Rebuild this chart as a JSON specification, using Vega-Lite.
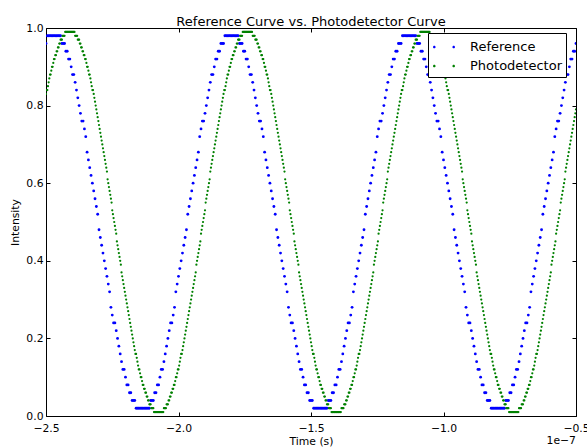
{
"$schema":"https://vega.github.io/schema/vega-lite/v6.json",
"width":530,"height":388,
"autosize":{"type":"none"},
"padding":{"left":46,"top":28,"right":11,"bottom":32},
"background":"white",
"title":{"text":"Reference Curve vs. Photodetector Curve","fontSize":13,"fontWeight":"normal","font":"DejaVu Sans","color":"#000","anchor":"middle","frame":"group","baseline":"alphabetic","offset":-17},
"config":{
"font":"DejaVu Sans",
"view":{"stroke":"#000","strokeWidth":1},
"axis":{"domain":false,"grid":false,"ticks":true,"tickColor":"#000","tickSize":-4,"tickWidth":1,"labelColor":"#000","labelFont":"DejaVu Sans","labelFontSize":10.8,"titleFont":"DejaVu Sans","titleFontSize":10.8,"titleFontWeight":"normal","titleColor":"#000","labelFlush":false,"labelOverlap":false}
},
"datasets":{
"lab":[{"t":-0.5,"v":0,"s":"1e−7"}],
"ref":[
{"t":-2.5,"v":0.96},{"t":-2.495,"v":0.98},{"t":-2.49,"v":0.98},{"t":-2.485,"v":0.98},{"t":-2.48,"v":0.98},{"t":-2.475,"v":0.98},
{"t":-2.47,"v":0.98},{"t":-2.465,"v":0.98},{"t":-2.46,"v":0.98},{"t":-2.455,"v":0.98},{"t":-2.45,"v":0.98},{"t":-2.445,"v":0.98},{"t":-2.44,"v":0.96},{"t":-2.435,"v":0.96},{"t":-2.43,"v":0.96},{"t":-2.425,"v":0.94},
{"t":-2.42,"v":0.94},{"t":-2.415,"v":0.92},{"t":-2.41,"v":0.92},{"t":-2.405,"v":0.90},{"t":-2.4,"v":0.88},{"t":-2.395,"v":0.88},{"t":-2.39,"v":0.86},{"t":-2.385,"v":0.84},{"t":-2.38,"v":0.82},{"t":-2.375,"v":0.80},
{"t":-2.37,"v":0.78},{"t":-2.365,"v":0.76},{"t":-2.36,"v":0.76},{"t":-2.355,"v":0.74},{"t":-2.35,"v":0.72},{"t":-2.345,"v":0.68},{"t":-2.34,"v":0.66},{"t":-2.335,"v":0.64},{"t":-2.33,"v":0.62},{"t":-2.325,"v":0.60},
{"t":-2.32,"v":0.58},{"t":-2.315,"v":0.56},{"t":-2.31,"v":0.54},{"t":-2.305,"v":0.52},{"t":-2.3,"v":0.48},{"t":-2.295,"v":0.46},{"t":-2.29,"v":0.44},{"t":-2.285,"v":0.42},{"t":-2.28,"v":0.40},{"t":-2.275,"v":0.38},
{"t":-2.27,"v":0.36},{"t":-2.265,"v":0.34},{"t":-2.26,"v":0.32},{"t":-2.255,"v":0.28},{"t":-2.25,"v":0.26},{"t":-2.245,"v":0.24},{"t":-2.24,"v":0.24},{"t":-2.235,"v":0.22},{"t":-2.23,"v":0.20},{"t":-2.225,"v":0.18},
{"t":-2.22,"v":0.16},{"t":-2.215,"v":0.14},{"t":-2.21,"v":0.12},{"t":-2.205,"v":0.12},{"t":-2.2,"v":0.10},{"t":-2.195,"v":0.08},{"t":-2.19,"v":0.08},{"t":-2.185,"v":0.06},{"t":-2.18,"v":0.06},{"t":-2.175,"v":0.04},
{"t":-2.17,"v":0.04},{"t":-2.165,"v":0.04},{"t":-2.16,"v":0.02},{"t":-2.155,"v":0.02},{"t":-2.15,"v":0.02},{"t":-2.145,"v":0.02},{"t":-2.14,"v":0.02},{"t":-2.135,"v":0.02},{"t":-2.13,"v":0.02},{"t":-2.125,"v":0.02},
{"t":-2.12,"v":0.02},{"t":-2.115,"v":0.02},{"t":-2.11,"v":0.02},{"t":-2.105,"v":0.04},{"t":-2.1,"v":0.04},{"t":-2.095,"v":0.04},{"t":-2.09,"v":0.06},{"t":-2.085,"v":0.06},{"t":-2.08,"v":0.08},{"t":-2.075,"v":0.08},
{"t":-2.07,"v":0.10},{"t":-2.065,"v":0.12},{"t":-2.06,"v":0.12},{"t":-2.055,"v":0.14},{"t":-2.05,"v":0.16},{"t":-2.045,"v":0.18},{"t":-2.04,"v":0.20},{"t":-2.035,"v":0.22},{"t":-2.03,"v":0.24},{"t":-2.025,"v":0.24},
{"t":-2.02,"v":0.26},{"t":-2.015,"v":0.28},{"t":-2.01,"v":0.32},{"t":-2.005,"v":0.34},{"t":-2,"v":0.36},{"t":-1.995,"v":0.38},{"t":-1.99,"v":0.40},{"t":-1.985,"v":0.42},{"t":-1.98,"v":0.44},{"t":-1.975,"v":0.46},
{"t":-1.97,"v":0.48},{"t":-1.965,"v":0.52},{"t":-1.96,"v":0.54},{"t":-1.955,"v":0.56},{"t":-1.95,"v":0.58},{"t":-1.945,"v":0.60},{"t":-1.94,"v":0.62},{"t":-1.935,"v":0.64},{"t":-1.93,"v":0.66},{"t":-1.925,"v":0.68},
{"t":-1.92,"v":0.72},{"t":-1.915,"v":0.74},{"t":-1.91,"v":0.76},{"t":-1.905,"v":0.76},{"t":-1.9,"v":0.78},{"t":-1.895,"v":0.80},{"t":-1.89,"v":0.82},{"t":-1.885,"v":0.84},{"t":-1.88,"v":0.86},{"t":-1.875,"v":0.88},
{"t":-1.87,"v":0.88},{"t":-1.865,"v":0.90},{"t":-1.86,"v":0.92},{"t":-1.855,"v":0.92},{"t":-1.85,"v":0.94},{"t":-1.845,"v":0.94},{"t":-1.84,"v":0.96},{"t":-1.835,"v":0.96},{"t":-1.83,"v":0.96},{"t":-1.825,"v":0.98},
{"t":-1.82,"v":0.98},{"t":-1.815,"v":0.98},{"t":-1.81,"v":0.98},{"t":-1.805,"v":0.98},
{"t":-1.8,"v":0.98},{"t":-1.795,"v":0.98},{"t":-1.79,"v":0.98},{"t":-1.785,"v":0.98},{"t":-1.78,"v":0.98},{"t":-1.775,"v":0.98},{"t":-1.77,"v":0.96},{"t":-1.765,"v":0.96},{"t":-1.76,"v":0.96},{"t":-1.755,"v":0.94},
{"t":-1.75,"v":0.94},{"t":-1.745,"v":0.92},{"t":-1.74,"v":0.92},{"t":-1.735,"v":0.90},{"t":-1.73,"v":0.88},{"t":-1.725,"v":0.88},{"t":-1.72,"v":0.86},{"t":-1.715,"v":0.84},{"t":-1.71,"v":0.82},{"t":-1.705,"v":0.80},
{"t":-1.7,"v":0.78},{"t":-1.695,"v":0.76},{"t":-1.69,"v":0.76},{"t":-1.685,"v":0.74},{"t":-1.68,"v":0.72},{"t":-1.675,"v":0.68},{"t":-1.67,"v":0.66},{"t":-1.665,"v":0.64},{"t":-1.66,"v":0.62},{"t":-1.655,"v":0.60},
{"t":-1.65,"v":0.58},{"t":-1.645,"v":0.56},{"t":-1.64,"v":0.54},{"t":-1.635,"v":0.52},{"t":-1.63,"v":0.48},{"t":-1.625,"v":0.46},{"t":-1.62,"v":0.44},{"t":-1.615,"v":0.42},{"t":-1.61,"v":0.40},{"t":-1.605,"v":0.38},
{"t":-1.6,"v":0.36},{"t":-1.595,"v":0.34},{"t":-1.59,"v":0.32},{"t":-1.585,"v":0.28},{"t":-1.58,"v":0.26},{"t":-1.575,"v":0.24},{"t":-1.57,"v":0.24},{"t":-1.565,"v":0.22},{"t":-1.56,"v":0.20},{"t":-1.555,"v":0.18},
{"t":-1.55,"v":0.16},{"t":-1.545,"v":0.14},{"t":-1.54,"v":0.12},{"t":-1.535,"v":0.12},{"t":-1.53,"v":0.10},{"t":-1.525,"v":0.08},{"t":-1.52,"v":0.08},{"t":-1.515,"v":0.06},{"t":-1.51,"v":0.06},{"t":-1.505,"v":0.04},
{"t":-1.5,"v":0.04},{"t":-1.495,"v":0.04},{"t":-1.49,"v":0.02},{"t":-1.485,"v":0.02},{"t":-1.48,"v":0.02},{"t":-1.475,"v":0.02},{"t":-1.47,"v":0.02},{"t":-1.465,"v":0.02},{"t":-1.46,"v":0.02},{"t":-1.455,"v":0.02},
{"t":-1.45,"v":0.02},{"t":-1.445,"v":0.02},{"t":-1.44,"v":0.02},{"t":-1.435,"v":0.04},{"t":-1.43,"v":0.04},{"t":-1.425,"v":0.04},{"t":-1.42,"v":0.06},{"t":-1.415,"v":0.06},{"t":-1.41,"v":0.08},{"t":-1.405,"v":0.08},
{"t":-1.4,"v":0.10},{"t":-1.395,"v":0.12},{"t":-1.39,"v":0.12},{"t":-1.385,"v":0.14},{"t":-1.38,"v":0.16},{"t":-1.375,"v":0.18},{"t":-1.37,"v":0.20},{"t":-1.365,"v":0.22},{"t":-1.36,"v":0.24},{"t":-1.355,"v":0.24},
{"t":-1.35,"v":0.26},{"t":-1.345,"v":0.28},{"t":-1.34,"v":0.32},{"t":-1.335,"v":0.34},{"t":-1.33,"v":0.36},{"t":-1.325,"v":0.38},{"t":-1.32,"v":0.40},{"t":-1.315,"v":0.42},{"t":-1.31,"v":0.44},{"t":-1.305,"v":0.46},
{"t":-1.3,"v":0.48},{"t":-1.295,"v":0.52},{"t":-1.29,"v":0.54},{"t":-1.285,"v":0.56},{"t":-1.28,"v":0.58},{"t":-1.275,"v":0.60},{"t":-1.27,"v":0.62},{"t":-1.265,"v":0.64},{"t":-1.26,"v":0.66},{"t":-1.255,"v":0.68},
{"t":-1.25,"v":0.72},{"t":-1.245,"v":0.74},{"t":-1.24,"v":0.76},{"t":-1.235,"v":0.76},{"t":-1.23,"v":0.78},{"t":-1.225,"v":0.80},{"t":-1.22,"v":0.82},{"t":-1.215,"v":0.84},{"t":-1.21,"v":0.86},{"t":-1.205,"v":0.88},
{"t":-1.2,"v":0.88},{"t":-1.195,"v":0.90},{"t":-1.19,"v":0.92},{"t":-1.185,"v":0.92},{"t":-1.18,"v":0.94},{"t":-1.175,"v":0.94},{"t":-1.17,"v":0.96},{"t":-1.165,"v":0.96},{"t":-1.16,"v":0.96},{"t":-1.155,"v":0.98},
{"t":-1.15,"v":0.98},{"t":-1.145,"v":0.98},{"t":-1.14,"v":0.98},{"t":-1.135,"v":0.98},
{"t":-1.13,"v":0.98},{"t":-1.125,"v":0.98},{"t":-1.12,"v":0.98},{"t":-1.115,"v":0.98},{"t":-1.11,"v":0.98},{"t":-1.105,"v":0.98},{"t":-1.1,"v":0.96},{"t":-1.095,"v":0.96},{"t":-1.09,"v":0.96},{"t":-1.085,"v":0.94},
{"t":-1.08,"v":0.94},{"t":-1.075,"v":0.92},{"t":-1.07,"v":0.92},{"t":-1.065,"v":0.90},{"t":-1.06,"v":0.88},{"t":-1.055,"v":0.88},{"t":-1.05,"v":0.86},{"t":-1.045,"v":0.84},{"t":-1.04,"v":0.82},{"t":-1.035,"v":0.80},
{"t":-1.03,"v":0.78},{"t":-1.025,"v":0.76},{"t":-1.02,"v":0.76},{"t":-1.015,"v":0.74},{"t":-1.01,"v":0.72},{"t":-1.005,"v":0.68},{"t":-1,"v":0.66},{"t":-0.995,"v":0.64},{"t":-0.99,"v":0.62},{"t":-0.985,"v":0.60},
{"t":-0.98,"v":0.58},{"t":-0.975,"v":0.56},{"t":-0.97,"v":0.54},{"t":-0.965,"v":0.52},{"t":-0.96,"v":0.48},{"t":-0.955,"v":0.46},{"t":-0.95,"v":0.44},{"t":-0.945,"v":0.42},{"t":-0.94,"v":0.40},{"t":-0.935,"v":0.38},
{"t":-0.93,"v":0.36},{"t":-0.925,"v":0.34},{"t":-0.92,"v":0.32},{"t":-0.915,"v":0.28},{"t":-0.91,"v":0.26},{"t":-0.905,"v":0.24},{"t":-0.9,"v":0.24},{"t":-0.895,"v":0.22},{"t":-0.89,"v":0.20},{"t":-0.885,"v":0.18},
{"t":-0.88,"v":0.16},{"t":-0.875,"v":0.14},{"t":-0.87,"v":0.12},{"t":-0.865,"v":0.12},{"t":-0.86,"v":0.10},{"t":-0.855,"v":0.08},{"t":-0.85,"v":0.08},{"t":-0.845,"v":0.06},{"t":-0.84,"v":0.06},{"t":-0.835,"v":0.04},
{"t":-0.83,"v":0.04},{"t":-0.825,"v":0.04},{"t":-0.82,"v":0.02},{"t":-0.815,"v":0.02},{"t":-0.81,"v":0.02},{"t":-0.805,"v":0.02},{"t":-0.8,"v":0.02},{"t":-0.795,"v":0.02},{"t":-0.79,"v":0.02},{"t":-0.785,"v":0.02},
{"t":-0.78,"v":0.02},{"t":-0.775,"v":0.02},{"t":-0.77,"v":0.02},{"t":-0.765,"v":0.04},{"t":-0.76,"v":0.04},{"t":-0.755,"v":0.04},{"t":-0.75,"v":0.06},{"t":-0.745,"v":0.06},{"t":-0.74,"v":0.08},{"t":-0.735,"v":0.08},
{"t":-0.73,"v":0.10},{"t":-0.725,"v":0.12},{"t":-0.72,"v":0.12},{"t":-0.715,"v":0.14},{"t":-0.71,"v":0.16},{"t":-0.705,"v":0.18},{"t":-0.7,"v":0.20},{"t":-0.695,"v":0.22},{"t":-0.69,"v":0.24},{"t":-0.685,"v":0.24},
{"t":-0.68,"v":0.26},{"t":-0.675,"v":0.28},{"t":-0.67,"v":0.32},{"t":-0.665,"v":0.34},{"t":-0.66,"v":0.36},{"t":-0.655,"v":0.38},{"t":-0.65,"v":0.40},{"t":-0.645,"v":0.42},{"t":-0.64,"v":0.44},{"t":-0.635,"v":0.46},
{"t":-0.63,"v":0.48},{"t":-0.625,"v":0.52},{"t":-0.62,"v":0.54},{"t":-0.615,"v":0.56},{"t":-0.61,"v":0.58},{"t":-0.605,"v":0.60},{"t":-0.6,"v":0.62},{"t":-0.595,"v":0.64},{"t":-0.59,"v":0.66},{"t":-0.585,"v":0.68},
{"t":-0.58,"v":0.72},{"t":-0.575,"v":0.74},{"t":-0.57,"v":0.76},{"t":-0.565,"v":0.76},{"t":-0.56,"v":0.78},{"t":-0.555,"v":0.80},{"t":-0.55,"v":0.82},{"t":-0.545,"v":0.84},{"t":-0.54,"v":0.86},{"t":-0.535,"v":0.88},
{"t":-0.53,"v":0.88},{"t":-0.525,"v":0.90},{"t":-0.52,"v":0.92},{"t":-0.515,"v":0.92},{"t":-0.51,"v":0.94},{"t":-0.505,"v":0.94},{"t":-0.5,"v":0.96}
],
"pd":[
{"t":-2.5,"v":0.83},{"t":-2.4975,"v":0.84},{"t":-2.495,"v":0.84},{"t":-2.4925,"v":0.85},
{"t":-2.49,"v":0.86},{"t":-2.4875,"v":0.87},{"t":-2.485,"v":0.88},{"t":-2.4825,"v":0.88},
{"t":-2.48,"v":0.89},{"t":-2.4775,"v":0.90},{"t":-2.475,"v":0.90},{"t":-2.4725,"v":0.91},
{"t":-2.47,"v":0.92},{"t":-2.4675,"v":0.92},{"t":-2.465,"v":0.93},{"t":-2.4625,"v":0.93},
{"t":-2.46,"v":0.94},{"t":-2.4575,"v":0.94},{"t":-2.455,"v":0.95},{"t":-2.4525,"v":0.95},
{"t":-2.45,"v":0.96},{"t":-2.4475,"v":0.96},{"t":-2.445,"v":0.97},{"t":-2.4425,"v":0.97},
{"t":-2.44,"v":0.97},{"t":-2.4375,"v":0.98},{"t":-2.435,"v":0.98},{"t":-2.4325,"v":0.98},
{"t":-2.43,"v":0.98},{"t":-2.4275,"v":0.99},{"t":-2.425,"v":0.99},{"t":-2.4225,"v":0.99},
{"t":-2.42,"v":0.99},{"t":-2.4175,"v":0.99},{"t":-2.415,"v":0.99},{"t":-2.4125,"v":0.99},
{"t":-2.41,"v":0.99},{"t":-2.4075,"v":0.99},{"t":-2.405,"v":0.99},{"t":-2.4025,"v":0.99},
{"t":-2.4,"v":0.99},{"t":-2.3975,"v":0.99},{"t":-2.395,"v":0.99},{"t":-2.3925,"v":0.99},
{"t":-2.39,"v":0.98},{"t":-2.3875,"v":0.98},{"t":-2.385,"v":0.98},{"t":-2.3825,"v":0.98},
{"t":-2.38,"v":0.97},{"t":-2.3775,"v":0.97},{"t":-2.375,"v":0.97},{"t":-2.3725,"v":0.96},
{"t":-2.37,"v":0.96},{"t":-2.3675,"v":0.95},{"t":-2.365,"v":0.95},{"t":-2.3625,"v":0.94},
{"t":-2.36,"v":0.94},{"t":-2.3575,"v":0.93},{"t":-2.355,"v":0.93},{"t":-2.3525,"v":0.92},
{"t":-2.35,"v":0.92},{"t":-2.3475,"v":0.91},{"t":-2.345,"v":0.90},{"t":-2.3425,"v":0.90},
{"t":-2.34,"v":0.89},{"t":-2.3375,"v":0.88},{"t":-2.335,"v":0.88},{"t":-2.3325,"v":0.87},
{"t":-2.33,"v":0.86},{"t":-2.3275,"v":0.85},{"t":-2.325,"v":0.84},{"t":-2.3225,"v":0.84},
{"t":-2.32,"v":0.83},{"t":-2.3175,"v":0.82},{"t":-2.315,"v":0.81},{"t":-2.3125,"v":0.80},
{"t":-2.31,"v":0.79},{"t":-2.3075,"v":0.78},{"t":-2.305,"v":0.77},{"t":-2.3025,"v":0.76},
{"t":-2.3,"v":0.75},{"t":-2.2975,"v":0.74},{"t":-2.295,"v":0.73},{"t":-2.2925,"v":0.72},
{"t":-2.29,"v":0.71},{"t":-2.2875,"v":0.70},{"t":-2.285,"v":0.69},{"t":-2.2825,"v":0.68},
{"t":-2.28,"v":0.67},{"t":-2.2775,"v":0.66},{"t":-2.275,"v":0.65},{"t":-2.2725,"v":0.64},
{"t":-2.27,"v":0.63},{"t":-2.2675,"v":0.61},{"t":-2.265,"v":0.60},{"t":-2.2625,"v":0.59},
{"t":-2.26,"v":0.58},{"t":-2.2575,"v":0.57},{"t":-2.255,"v":0.56},{"t":-2.2525,"v":0.55},
{"t":-2.25,"v":0.53},{"t":-2.2475,"v":0.52},{"t":-2.245,"v":0.51},{"t":-2.2425,"v":0.50},
{"t":-2.24,"v":0.49},{"t":-2.2375,"v":0.48},{"t":-2.235,"v":0.47},{"t":-2.2325,"v":0.45},
{"t":-2.23,"v":0.44},{"t":-2.2275,"v":0.43},{"t":-2.225,"v":0.42},{"t":-2.2225,"v":0.41},
{"t":-2.22,"v":0.40},{"t":-2.2175,"v":0.39},{"t":-2.215,"v":0.37},{"t":-2.2125,"v":0.36},
{"t":-2.21,"v":0.35},{"t":-2.2075,"v":0.34},{"t":-2.205,"v":0.33},{"t":-2.2025,"v":0.32},
{"t":-2.2,"v":0.31},{"t":-2.1975,"v":0.30},{"t":-2.195,"v":0.29},{"t":-2.1925,"v":0.28},
{"t":-2.19,"v":0.27},{"t":-2.1875,"v":0.26},{"t":-2.185,"v":0.25},{"t":-2.1825,"v":0.24},
{"t":-2.18,"v":0.23},{"t":-2.1775,"v":0.22},{"t":-2.175,"v":0.21},{"t":-2.1725,"v":0.20},
{"t":-2.17,"v":0.19},{"t":-2.1675,"v":0.18},{"t":-2.165,"v":0.17},{"t":-2.1625,"v":0.16},
{"t":-2.16,"v":0.16},{"t":-2.1575,"v":0.15},{"t":-2.155,"v":0.14},{"t":-2.1525,"v":0.13},
{"t":-2.15,"v":0.12},{"t":-2.1475,"v":0.12},{"t":-2.145,"v":0.11},{"t":-2.1425,"v":0.10},
{"t":-2.14,"v":0.10},{"t":-2.1375,"v":0.09},{"t":-2.135,"v":0.08},{"t":-2.1325,"v":0.08},
{"t":-2.13,"v":0.07},{"t":-2.1275,"v":0.07},{"t":-2.125,"v":0.06},{"t":-2.1225,"v":0.06},
{"t":-2.12,"v":0.05},{"t":-2.1175,"v":0.05},{"t":-2.115,"v":0.04},{"t":-2.1125,"v":0.04},
{"t":-2.11,"v":0.03},{"t":-2.1075,"v":0.03},{"t":-2.105,"v":0.03},{"t":-2.1025,"v":0.02},
{"t":-2.1,"v":0.02},{"t":-2.0975,"v":0.02},{"t":-2.095,"v":0.02},{"t":-2.0925,"v":0.01},
{"t":-2.09,"v":0.01},{"t":-2.0875,"v":0.01},{"t":-2.085,"v":0.01},{"t":-2.0825,"v":0.01},
{"t":-2.08,"v":0.01},{"t":-2.0775,"v":0.01},{"t":-2.075,"v":0.01},{"t":-2.0725,"v":0.01},
{"t":-2.07,"v":0.01},{"t":-2.0675,"v":0.01},{"t":-2.065,"v":0.01},{"t":-2.0625,"v":0.01},
{"t":-2.06,"v":0.01},{"t":-2.0575,"v":0.01},{"t":-2.055,"v":0.02},{"t":-2.0525,"v":0.02},
{"t":-2.05,"v":0.02},{"t":-2.0475,"v":0.02},{"t":-2.045,"v":0.03},{"t":-2.0425,"v":0.03},
{"t":-2.04,"v":0.03},{"t":-2.0375,"v":0.04},{"t":-2.035,"v":0.04},{"t":-2.0325,"v":0.05},
{"t":-2.03,"v":0.05},{"t":-2.0275,"v":0.06},{"t":-2.025,"v":0.06},{"t":-2.0225,"v":0.07},
{"t":-2.02,"v":0.07},{"t":-2.0175,"v":0.08},{"t":-2.015,"v":0.08},{"t":-2.0125,"v":0.09},
{"t":-2.01,"v":0.10},{"t":-2.0075,"v":0.10},{"t":-2.005,"v":0.11},{"t":-2.0025,"v":0.12},
{"t":-2,"v":0.12},{"t":-1.9975,"v":0.13},{"t":-1.995,"v":0.14},{"t":-1.9925,"v":0.15},
{"t":-1.99,"v":0.16},{"t":-1.9875,"v":0.16},{"t":-1.985,"v":0.17},{"t":-1.9825,"v":0.18},
{"t":-1.98,"v":0.19},{"t":-1.9775,"v":0.20},{"t":-1.975,"v":0.21},{"t":-1.9725,"v":0.22},
{"t":-1.97,"v":0.23},{"t":-1.9675,"v":0.24},{"t":-1.965,"v":0.25},{"t":-1.9625,"v":0.26},
{"t":-1.96,"v":0.27},{"t":-1.9575,"v":0.28},{"t":-1.955,"v":0.29},{"t":-1.9525,"v":0.30},
{"t":-1.95,"v":0.31},{"t":-1.9475,"v":0.32},{"t":-1.945,"v":0.33},{"t":-1.9425,"v":0.34},
{"t":-1.94,"v":0.35},{"t":-1.9375,"v":0.36},{"t":-1.935,"v":0.37},{"t":-1.9325,"v":0.39},
{"t":-1.93,"v":0.40},{"t":-1.9275,"v":0.41},{"t":-1.925,"v":0.42},{"t":-1.9225,"v":0.43},
{"t":-1.92,"v":0.44},{"t":-1.9175,"v":0.45},{"t":-1.915,"v":0.47},{"t":-1.9125,"v":0.48},
{"t":-1.91,"v":0.49},{"t":-1.9075,"v":0.50},{"t":-1.905,"v":0.51},{"t":-1.9025,"v":0.52},
{"t":-1.9,"v":0.53},{"t":-1.8975,"v":0.55},{"t":-1.895,"v":0.56},{"t":-1.8925,"v":0.57},
{"t":-1.89,"v":0.58},{"t":-1.8875,"v":0.59},{"t":-1.885,"v":0.60},{"t":-1.8825,"v":0.61},
{"t":-1.88,"v":0.63},{"t":-1.8775,"v":0.64},{"t":-1.875,"v":0.65},{"t":-1.8725,"v":0.66},
{"t":-1.87,"v":0.67},{"t":-1.8675,"v":0.68},{"t":-1.865,"v":0.69},{"t":-1.8625,"v":0.70},
{"t":-1.86,"v":0.71},{"t":-1.8575,"v":0.72},{"t":-1.855,"v":0.73},{"t":-1.8525,"v":0.74},
{"t":-1.85,"v":0.75},{"t":-1.8475,"v":0.76},{"t":-1.845,"v":0.77},{"t":-1.8425,"v":0.78},
{"t":-1.84,"v":0.79},{"t":-1.8375,"v":0.80},{"t":-1.835,"v":0.81},{"t":-1.8325,"v":0.82},
{"t":-1.83,"v":0.83},{"t":-1.8275,"v":0.84},{"t":-1.825,"v":0.84},{"t":-1.8225,"v":0.85},
{"t":-1.82,"v":0.86},{"t":-1.8175,"v":0.87},{"t":-1.815,"v":0.88},{"t":-1.8125,"v":0.88},
{"t":-1.81,"v":0.89},{"t":-1.8075,"v":0.90},{"t":-1.805,"v":0.90},{"t":-1.8025,"v":0.91},
{"t":-1.8,"v":0.92},{"t":-1.7975,"v":0.92},{"t":-1.795,"v":0.93},{"t":-1.7925,"v":0.93},
{"t":-1.79,"v":0.94},{"t":-1.7875,"v":0.94},{"t":-1.785,"v":0.95},{"t":-1.7825,"v":0.95},
{"t":-1.78,"v":0.96},{"t":-1.7775,"v":0.96},{"t":-1.775,"v":0.97},{"t":-1.7725,"v":0.97},
{"t":-1.77,"v":0.97},{"t":-1.7675,"v":0.98},{"t":-1.765,"v":0.98},{"t":-1.7625,"v":0.98},
{"t":-1.76,"v":0.98},{"t":-1.7575,"v":0.99},{"t":-1.755,"v":0.99},{"t":-1.7525,"v":0.99},
{"t":-1.75,"v":0.99},{"t":-1.7475,"v":0.99},{"t":-1.745,"v":0.99},{"t":-1.7425,"v":0.99},
{"t":-1.74,"v":0.99},{"t":-1.7375,"v":0.99},{"t":-1.735,"v":0.99},{"t":-1.7325,"v":0.99},
{"t":-1.73,"v":0.99},{"t":-1.7275,"v":0.99},{"t":-1.725,"v":0.99},{"t":-1.7225,"v":0.99},
{"t":-1.72,"v":0.98},{"t":-1.7175,"v":0.98},{"t":-1.715,"v":0.98},{"t":-1.7125,"v":0.98},
{"t":-1.71,"v":0.97},{"t":-1.7075,"v":0.97},{"t":-1.705,"v":0.97},{"t":-1.7025,"v":0.96},
{"t":-1.7,"v":0.96},{"t":-1.6975,"v":0.95},{"t":-1.695,"v":0.95},{"t":-1.6925,"v":0.94},
{"t":-1.69,"v":0.94},{"t":-1.6875,"v":0.93},{"t":-1.685,"v":0.93},{"t":-1.6825,"v":0.92},
{"t":-1.68,"v":0.92},{"t":-1.6775,"v":0.91},{"t":-1.675,"v":0.90},{"t":-1.6725,"v":0.90},
{"t":-1.67,"v":0.89},{"t":-1.6675,"v":0.88},{"t":-1.665,"v":0.88},{"t":-1.6625,"v":0.87},
{"t":-1.66,"v":0.86},{"t":-1.6575,"v":0.85},{"t":-1.655,"v":0.84},{"t":-1.6525,"v":0.84},
{"t":-1.65,"v":0.83},{"t":-1.6475,"v":0.82},{"t":-1.645,"v":0.81},{"t":-1.6425,"v":0.80},
{"t":-1.64,"v":0.79},{"t":-1.6375,"v":0.78},{"t":-1.635,"v":0.77},{"t":-1.6325,"v":0.76},
{"t":-1.63,"v":0.75},{"t":-1.6275,"v":0.74},{"t":-1.625,"v":0.73},{"t":-1.6225,"v":0.72},
{"t":-1.62,"v":0.71},{"t":-1.6175,"v":0.70},{"t":-1.615,"v":0.69},{"t":-1.6125,"v":0.68},
{"t":-1.61,"v":0.67},{"t":-1.6075,"v":0.66},{"t":-1.605,"v":0.65},{"t":-1.6025,"v":0.64},
{"t":-1.6,"v":0.63},{"t":-1.5975,"v":0.61},{"t":-1.595,"v":0.60},{"t":-1.5925,"v":0.59},
{"t":-1.59,"v":0.58},{"t":-1.5875,"v":0.57},{"t":-1.585,"v":0.56},{"t":-1.5825,"v":0.55},
{"t":-1.58,"v":0.53},{"t":-1.5775,"v":0.52},{"t":-1.575,"v":0.51},{"t":-1.5725,"v":0.50},
{"t":-1.57,"v":0.49},{"t":-1.5675,"v":0.48},{"t":-1.565,"v":0.47},{"t":-1.5625,"v":0.45},
{"t":-1.56,"v":0.44},{"t":-1.5575,"v":0.43},{"t":-1.555,"v":0.42},{"t":-1.5525,"v":0.41},
{"t":-1.55,"v":0.40},{"t":-1.5475,"v":0.39},{"t":-1.545,"v":0.37},{"t":-1.5425,"v":0.36},
{"t":-1.54,"v":0.35},{"t":-1.5375,"v":0.34},{"t":-1.535,"v":0.33},{"t":-1.5325,"v":0.32},
{"t":-1.53,"v":0.31},{"t":-1.5275,"v":0.30},{"t":-1.525,"v":0.29},{"t":-1.5225,"v":0.28},
{"t":-1.52,"v":0.27},{"t":-1.5175,"v":0.26},{"t":-1.515,"v":0.25},{"t":-1.5125,"v":0.24},
{"t":-1.51,"v":0.23},{"t":-1.5075,"v":0.22},{"t":-1.505,"v":0.21},{"t":-1.5025,"v":0.20},
{"t":-1.5,"v":0.19},{"t":-1.4975,"v":0.18},{"t":-1.495,"v":0.17},{"t":-1.4925,"v":0.16},
{"t":-1.49,"v":0.16},{"t":-1.4875,"v":0.15},{"t":-1.485,"v":0.14},{"t":-1.4825,"v":0.13},
{"t":-1.48,"v":0.12},{"t":-1.4775,"v":0.12},{"t":-1.475,"v":0.11},{"t":-1.4725,"v":0.10},
{"t":-1.47,"v":0.10},{"t":-1.4675,"v":0.09},{"t":-1.465,"v":0.08},{"t":-1.4625,"v":0.08},
{"t":-1.46,"v":0.07},{"t":-1.4575,"v":0.07},{"t":-1.455,"v":0.06},{"t":-1.4525,"v":0.06},
{"t":-1.45,"v":0.05},{"t":-1.4475,"v":0.05},{"t":-1.445,"v":0.04},{"t":-1.4425,"v":0.04},
{"t":-1.44,"v":0.03},{"t":-1.4375,"v":0.03},{"t":-1.435,"v":0.03},{"t":-1.4325,"v":0.02},
{"t":-1.43,"v":0.02},{"t":-1.4275,"v":0.02},{"t":-1.425,"v":0.02},{"t":-1.4225,"v":0.01},
{"t":-1.42,"v":0.01},{"t":-1.4175,"v":0.01},{"t":-1.415,"v":0.01},{"t":-1.4125,"v":0.01},
{"t":-1.41,"v":0.01},{"t":-1.4075,"v":0.01},{"t":-1.405,"v":0.01},{"t":-1.4025,"v":0.01},
{"t":-1.4,"v":0.01},{"t":-1.3975,"v":0.01},{"t":-1.395,"v":0.01},{"t":-1.3925,"v":0.01},
{"t":-1.39,"v":0.01},{"t":-1.3875,"v":0.01},{"t":-1.385,"v":0.02},{"t":-1.3825,"v":0.02},
{"t":-1.38,"v":0.02},{"t":-1.3775,"v":0.02},{"t":-1.375,"v":0.03},{"t":-1.3725,"v":0.03},
{"t":-1.37,"v":0.03},{"t":-1.3675,"v":0.04},{"t":-1.365,"v":0.04},{"t":-1.3625,"v":0.05},
{"t":-1.36,"v":0.05},{"t":-1.3575,"v":0.06},{"t":-1.355,"v":0.06},{"t":-1.3525,"v":0.07},
{"t":-1.35,"v":0.07},{"t":-1.3475,"v":0.08},{"t":-1.345,"v":0.08},{"t":-1.3425,"v":0.09},
{"t":-1.34,"v":0.10},{"t":-1.3375,"v":0.10},{"t":-1.335,"v":0.11},{"t":-1.3325,"v":0.12},
{"t":-1.33,"v":0.12},{"t":-1.3275,"v":0.13},{"t":-1.325,"v":0.14},{"t":-1.3225,"v":0.15},
{"t":-1.32,"v":0.16},{"t":-1.3175,"v":0.16},{"t":-1.315,"v":0.17},{"t":-1.3125,"v":0.18},
{"t":-1.31,"v":0.19},{"t":-1.3075,"v":0.20},{"t":-1.305,"v":0.21},{"t":-1.3025,"v":0.22},
{"t":-1.3,"v":0.23},{"t":-1.2975,"v":0.24},{"t":-1.295,"v":0.25},{"t":-1.2925,"v":0.26},
{"t":-1.29,"v":0.27},{"t":-1.2875,"v":0.28},{"t":-1.285,"v":0.29},{"t":-1.2825,"v":0.30},
{"t":-1.28,"v":0.31},{"t":-1.2775,"v":0.32},{"t":-1.275,"v":0.33},{"t":-1.2725,"v":0.34},
{"t":-1.27,"v":0.35},{"t":-1.2675,"v":0.36},{"t":-1.265,"v":0.37},{"t":-1.2625,"v":0.39},
{"t":-1.26,"v":0.40},{"t":-1.2575,"v":0.41},{"t":-1.255,"v":0.42},{"t":-1.2525,"v":0.43},
{"t":-1.25,"v":0.44},{"t":-1.2475,"v":0.45},{"t":-1.245,"v":0.47},{"t":-1.2425,"v":0.48},
{"t":-1.24,"v":0.49},{"t":-1.2375,"v":0.50},{"t":-1.235,"v":0.51},{"t":-1.2325,"v":0.52},
{"t":-1.23,"v":0.53},{"t":-1.2275,"v":0.55},{"t":-1.225,"v":0.56},{"t":-1.2225,"v":0.57},
{"t":-1.22,"v":0.58},{"t":-1.2175,"v":0.59},{"t":-1.215,"v":0.60},{"t":-1.2125,"v":0.61},
{"t":-1.21,"v":0.63},{"t":-1.2075,"v":0.64},{"t":-1.205,"v":0.65},{"t":-1.2025,"v":0.66},
{"t":-1.2,"v":0.67},{"t":-1.1975,"v":0.68},{"t":-1.195,"v":0.69},{"t":-1.1925,"v":0.70},
{"t":-1.19,"v":0.71},{"t":-1.1875,"v":0.72},{"t":-1.185,"v":0.73},{"t":-1.1825,"v":0.74},
{"t":-1.18,"v":0.75},{"t":-1.1775,"v":0.76},{"t":-1.175,"v":0.77},{"t":-1.1725,"v":0.78},
{"t":-1.17,"v":0.79},{"t":-1.1675,"v":0.80},{"t":-1.165,"v":0.81},{"t":-1.1625,"v":0.82},
{"t":-1.16,"v":0.83},{"t":-1.1575,"v":0.84},{"t":-1.155,"v":0.84},{"t":-1.1525,"v":0.85},
{"t":-1.15,"v":0.86},{"t":-1.1475,"v":0.87},{"t":-1.145,"v":0.88},{"t":-1.1425,"v":0.88},
{"t":-1.14,"v":0.89},{"t":-1.1375,"v":0.90},{"t":-1.135,"v":0.90},{"t":-1.1325,"v":0.91},
{"t":-1.13,"v":0.92},{"t":-1.1275,"v":0.92},{"t":-1.125,"v":0.93},{"t":-1.1225,"v":0.93},
{"t":-1.12,"v":0.94},{"t":-1.1175,"v":0.94},{"t":-1.115,"v":0.95},{"t":-1.1125,"v":0.95},
{"t":-1.11,"v":0.96},{"t":-1.1075,"v":0.96},{"t":-1.105,"v":0.97},{"t":-1.1025,"v":0.97},
{"t":-1.1,"v":0.97},{"t":-1.0975,"v":0.98},{"t":-1.095,"v":0.98},{"t":-1.0925,"v":0.98},
{"t":-1.09,"v":0.98},{"t":-1.0875,"v":0.99},{"t":-1.085,"v":0.99},{"t":-1.0825,"v":0.99},
{"t":-1.08,"v":0.99},{"t":-1.0775,"v":0.99},{"t":-1.075,"v":0.99},{"t":-1.0725,"v":0.99},
{"t":-1.07,"v":0.99},{"t":-1.0675,"v":0.99},{"t":-1.065,"v":0.99},{"t":-1.0625,"v":0.99},
{"t":-1.06,"v":0.99},{"t":-1.0575,"v":0.99},{"t":-1.055,"v":0.99},{"t":-1.0525,"v":0.99},
{"t":-1.05,"v":0.98},{"t":-1.0475,"v":0.98},{"t":-1.045,"v":0.98},{"t":-1.0425,"v":0.98},
{"t":-1.04,"v":0.97},{"t":-1.0375,"v":0.97},{"t":-1.035,"v":0.97},{"t":-1.0325,"v":0.96},
{"t":-1.03,"v":0.96},{"t":-1.0275,"v":0.95},{"t":-1.025,"v":0.95},{"t":-1.0225,"v":0.94},
{"t":-1.02,"v":0.94},{"t":-1.0175,"v":0.93},{"t":-1.015,"v":0.93},{"t":-1.0125,"v":0.92},
{"t":-1.01,"v":0.92},{"t":-1.0075,"v":0.91},{"t":-1.005,"v":0.90},{"t":-1.0025,"v":0.90},
{"t":-1,"v":0.89},{"t":-0.9975,"v":0.88},{"t":-0.995,"v":0.88},{"t":-0.9925,"v":0.87},
{"t":-0.99,"v":0.86},{"t":-0.9875,"v":0.85},{"t":-0.985,"v":0.84},{"t":-0.9825,"v":0.84},
{"t":-0.98,"v":0.83},{"t":-0.9775,"v":0.82},{"t":-0.975,"v":0.81},{"t":-0.9725,"v":0.80},
{"t":-0.97,"v":0.79},{"t":-0.9675,"v":0.78},{"t":-0.965,"v":0.77},{"t":-0.9625,"v":0.76},
{"t":-0.96,"v":0.75},{"t":-0.9575,"v":0.74},{"t":-0.955,"v":0.73},{"t":-0.9525,"v":0.72},
{"t":-0.95,"v":0.71},{"t":-0.9475,"v":0.70},{"t":-0.945,"v":0.69},{"t":-0.9425,"v":0.68},
{"t":-0.94,"v":0.67},{"t":-0.9375,"v":0.66},{"t":-0.935,"v":0.65},{"t":-0.9325,"v":0.64},
{"t":-0.93,"v":0.63},{"t":-0.9275,"v":0.61},{"t":-0.925,"v":0.60},{"t":-0.9225,"v":0.59},
{"t":-0.92,"v":0.58},{"t":-0.9175,"v":0.57},{"t":-0.915,"v":0.56},{"t":-0.9125,"v":0.55},
{"t":-0.91,"v":0.53},{"t":-0.9075,"v":0.52},{"t":-0.905,"v":0.51},{"t":-0.9025,"v":0.50},
{"t":-0.9,"v":0.49},{"t":-0.8975,"v":0.48},{"t":-0.895,"v":0.47},{"t":-0.8925,"v":0.45},
{"t":-0.89,"v":0.44},{"t":-0.8875,"v":0.43},{"t":-0.885,"v":0.42},{"t":-0.8825,"v":0.41},
{"t":-0.88,"v":0.40},{"t":-0.8775,"v":0.39},{"t":-0.875,"v":0.37},{"t":-0.8725,"v":0.36},
{"t":-0.87,"v":0.35},{"t":-0.8675,"v":0.34},{"t":-0.865,"v":0.33},{"t":-0.8625,"v":0.32},
{"t":-0.86,"v":0.31},{"t":-0.8575,"v":0.30},{"t":-0.855,"v":0.29},{"t":-0.8525,"v":0.28},
{"t":-0.85,"v":0.27},{"t":-0.8475,"v":0.26},{"t":-0.845,"v":0.25},{"t":-0.8425,"v":0.24},
{"t":-0.84,"v":0.23},{"t":-0.8375,"v":0.22},{"t":-0.835,"v":0.21},{"t":-0.8325,"v":0.20},
{"t":-0.83,"v":0.19},{"t":-0.8275,"v":0.18},{"t":-0.825,"v":0.17},{"t":-0.8225,"v":0.16},
{"t":-0.82,"v":0.16},{"t":-0.8175,"v":0.15},{"t":-0.815,"v":0.14},{"t":-0.8125,"v":0.13},
{"t":-0.81,"v":0.12},{"t":-0.8075,"v":0.12},{"t":-0.805,"v":0.11},{"t":-0.8025,"v":0.10},
{"t":-0.8,"v":0.10},{"t":-0.7975,"v":0.09},{"t":-0.795,"v":0.08},{"t":-0.7925,"v":0.08},
{"t":-0.79,"v":0.07},{"t":-0.7875,"v":0.07},{"t":-0.785,"v":0.06},{"t":-0.7825,"v":0.06},
{"t":-0.78,"v":0.05},{"t":-0.7775,"v":0.05},{"t":-0.775,"v":0.04},{"t":-0.7725,"v":0.04},
{"t":-0.77,"v":0.03},{"t":-0.7675,"v":0.03},{"t":-0.765,"v":0.03},{"t":-0.7625,"v":0.02},
{"t":-0.76,"v":0.02},{"t":-0.7575,"v":0.02},{"t":-0.755,"v":0.02},{"t":-0.7525,"v":0.01},
{"t":-0.75,"v":0.01},{"t":-0.7475,"v":0.01},{"t":-0.745,"v":0.01},{"t":-0.7425,"v":0.01},
{"t":-0.74,"v":0.01},{"t":-0.7375,"v":0.01},{"t":-0.735,"v":0.01},{"t":-0.7325,"v":0.01},
{"t":-0.73,"v":0.01},{"t":-0.7275,"v":0.01},{"t":-0.725,"v":0.01},{"t":-0.7225,"v":0.01},
{"t":-0.72,"v":0.01},{"t":-0.7175,"v":0.01},{"t":-0.715,"v":0.02},{"t":-0.7125,"v":0.02},
{"t":-0.71,"v":0.02},{"t":-0.7075,"v":0.02},{"t":-0.705,"v":0.03},{"t":-0.7025,"v":0.03},
{"t":-0.7,"v":0.03},{"t":-0.6975,"v":0.04},{"t":-0.695,"v":0.04},{"t":-0.6925,"v":0.05},
{"t":-0.69,"v":0.05},{"t":-0.6875,"v":0.06},{"t":-0.685,"v":0.06},{"t":-0.6825,"v":0.07},
{"t":-0.68,"v":0.07},{"t":-0.6775,"v":0.08},{"t":-0.675,"v":0.08},{"t":-0.6725,"v":0.09},
{"t":-0.67,"v":0.10},{"t":-0.6675,"v":0.10},{"t":-0.665,"v":0.11},{"t":-0.6625,"v":0.12},
{"t":-0.66,"v":0.12},{"t":-0.6575,"v":0.13},{"t":-0.655,"v":0.14},{"t":-0.6525,"v":0.15},
{"t":-0.65,"v":0.16},{"t":-0.6475,"v":0.16},{"t":-0.645,"v":0.17},{"t":-0.6425,"v":0.18},
{"t":-0.64,"v":0.19},{"t":-0.6375,"v":0.20},{"t":-0.635,"v":0.21},{"t":-0.6325,"v":0.22},
{"t":-0.63,"v":0.23},{"t":-0.6275,"v":0.24},{"t":-0.625,"v":0.25},{"t":-0.6225,"v":0.26},
{"t":-0.62,"v":0.27},{"t":-0.6175,"v":0.28},{"t":-0.615,"v":0.29},{"t":-0.6125,"v":0.30},
{"t":-0.61,"v":0.31},{"t":-0.6075,"v":0.32},{"t":-0.605,"v":0.33},{"t":-0.6025,"v":0.34},
{"t":-0.6,"v":0.35},{"t":-0.5975,"v":0.36},{"t":-0.595,"v":0.37},{"t":-0.5925,"v":0.39},
{"t":-0.59,"v":0.40},{"t":-0.5875,"v":0.41},{"t":-0.585,"v":0.42},{"t":-0.5825,"v":0.43},
{"t":-0.58,"v":0.44},{"t":-0.5775,"v":0.45},{"t":-0.575,"v":0.47},{"t":-0.5725,"v":0.48},
{"t":-0.57,"v":0.49},{"t":-0.5675,"v":0.50},{"t":-0.565,"v":0.51},{"t":-0.5625,"v":0.52},
{"t":-0.56,"v":0.53},{"t":-0.5575,"v":0.55},{"t":-0.555,"v":0.56},{"t":-0.5525,"v":0.57},
{"t":-0.55,"v":0.58},{"t":-0.5475,"v":0.59},{"t":-0.545,"v":0.60},{"t":-0.5425,"v":0.61},
{"t":-0.54,"v":0.63},{"t":-0.5375,"v":0.64},{"t":-0.535,"v":0.65},{"t":-0.5325,"v":0.66},
{"t":-0.53,"v":0.67},{"t":-0.5275,"v":0.68},{"t":-0.525,"v":0.69},{"t":-0.5225,"v":0.70},
{"t":-0.52,"v":0.71},{"t":-0.5175,"v":0.72},{"t":-0.515,"v":0.73},{"t":-0.5125,"v":0.74},
{"t":-0.51,"v":0.75},{"t":-0.5075,"v":0.76},{"t":-0.505,"v":0.77},{"t":-0.5025,"v":0.78},
{"t":-0.5,"v":0.79}
]
},
"layer":[
{"data":{"name":"ref"},
"mark":{"type":"point","filled":true,"size":8,"opacity":1,"strokeWidth":0,"clip":true},
"encoding":{
"x":{"field":"t","type":"quantitative","scale":{"domain":[-2.5,-0.5],"nice":false,"zero":false},
"axis":{"orient":"bottom","title":"Time (s)","values":[-2.5,-2,-1.5,-1,-0.5],"format":".1f","labelPadding":10,"titlePadding":3}},
"y":{"field":"v","type":"quantitative","scale":{"domain":[0,1],"nice":false,"zero":false},
"axis":{"orient":"left","title":"Intensity","values":[0,0.2,0.4,0.6,0.8,1],"format":".1f","labelPadding":7,"titlePadding":5}},
"color":{"datum":"Reference","type":"nominal","scale":{"domain":["Reference","Photodetector"],"range":["#0000ff","#008000"]},
"legend":{"title":null,"orient":"none","legendX":382,"legendY":5,"padding":4,"strokeColor":"#000","fillColor":"#fff","cornerRadius":0,"labelFontSize":13,"labelFont":"DejaVu Sans","labelColor":"#000","symbolType":"M-0.9,0a0.13,0.13 0 1,0 0.26,0a0.13,0.13 0 1,0 -0.26,0ZM1.04,0a0.13,0.13 0 1,0 0.26,0a0.13,0.13 0 1,0 -0.26,0Z","symbolSize":400,"symbolStrokeWidth":0,"symbolOpacity":1,"labelOffset":18,"rowPadding":2}}
}},
{"data":{"name":"pd"},
"mark":{"type":"point","filled":true,"size":5,"opacity":1,"strokeWidth":0,"clip":true},
"encoding":{
"x":{"field":"t","type":"quantitative","axis":{"orient":"top","labels":false,"title":null,"values":[-2.5,-2,-1.5,-1,-0.5]}},
"y":{"field":"v","type":"quantitative","axis":{"orient":"right","labels":false,"title":null,"values":[0,0.2,0.4,0.6,0.8,1]}},
"color":{"datum":"Photodetector","type":"nominal"}
}},
{"data":{"name":"lab"},
"mark":{"type":"text","align":"right","baseline":"alphabetic","dy":28,"fontSize":10.8,"font":"DejaVu Sans","color":"#000"},
"encoding":{
"x":{"field":"t","type":"quantitative","axis":null},
"y":{"field":"v","type":"quantitative","axis":null},
"text":{"field":"s"}
}}
]
}
